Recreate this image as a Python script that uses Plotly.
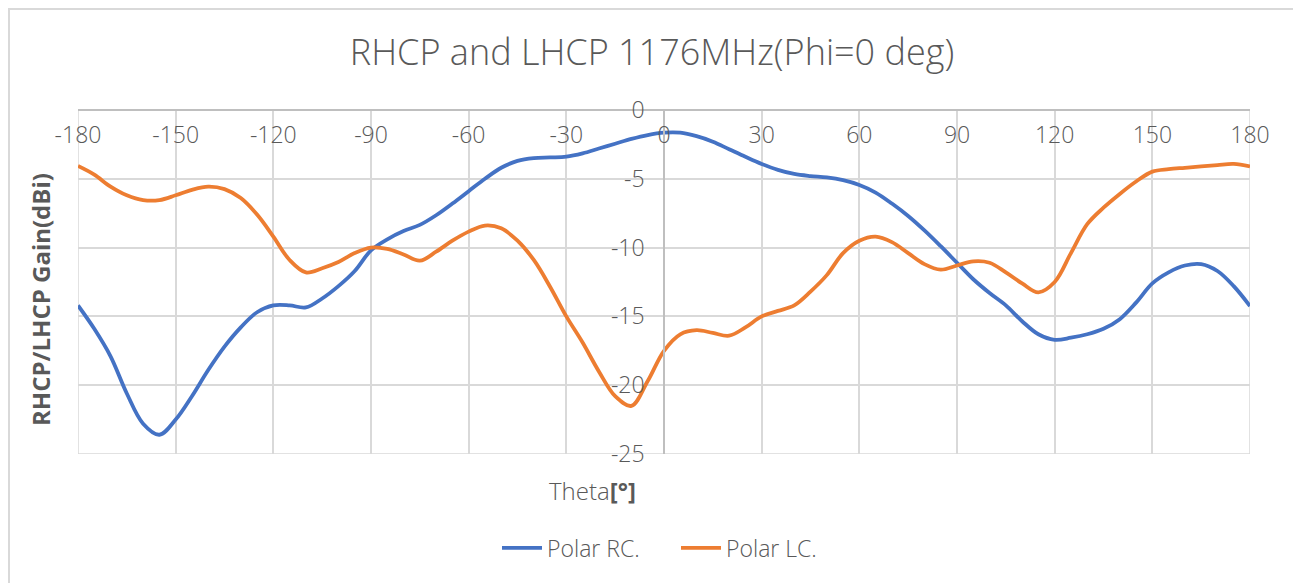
import plotly.graph_objects as go

# Theta grid [deg] and gains [dBi]
theta = list(range(-180, 181, 5))

rc_gain = [-14.2, -15.9, -17.9, -20.6, -22.8, -23.6, -22.5, -20.8, -18.9, -17.2,
           -15.8, -14.7, -14.2, -14.2, -14.35, -13.7, -12.8, -11.7, -10.2, -9.4,
           -8.8, -8.35, -7.65, -6.8, -5.9, -5.0, -4.2, -3.7, -3.5, -3.45,
           -3.39, -3.15, -2.8, -2.45, -2.1, -1.82, -1.65, -1.65, -1.9, -2.3,
           -2.85, -3.4, -3.92, -4.35, -4.65, -4.8, -4.9, -5.1, -5.45, -6.0,
           -6.8, -7.7, -8.75, -9.9, -11.1, -12.3, -13.3, -14.2, -15.35, -16.3,
           -16.7, -16.55, -16.3, -15.9, -15.2, -14.0, -12.6, -11.8, -11.3, -11.2,
           -11.7, -12.8, -14.25]

lc_gain = [-4.07, -4.7, -5.57, -6.2, -6.55, -6.55, -6.2, -5.8, -5.57, -5.75,
           -6.4, -7.6, -9.2, -10.9, -11.8, -11.5, -11.05, -10.4, -10.0, -10.1,
           -10.5, -10.95, -10.3, -9.5, -8.84, -8.4, -8.6, -9.5, -10.9, -12.84,
           -15.0, -16.9, -19.0, -20.8, -21.5, -19.7, -17.5, -16.3, -16.0, -16.2,
           -16.4, -15.8, -15.0, -14.6, -14.2, -13.2, -12.0, -10.4, -9.5, -9.2,
           -9.6, -10.4, -11.2, -11.6, -11.3, -11.0, -11.1, -11.8, -12.6, -13.25,
           -12.5, -10.4, -8.3, -7.1, -6.1, -5.2, -4.48, -4.3, -4.2, -4.1,
           -4.0, -3.92, -4.1]

x_ticks = list(range(-180, 181, 30))
y_ticks = list(range(-25, 1, 5))

TXT = "#595959"
GRID = "#D9D9D9"
FONT = "Open Sans"
OFF = 8  # page body margin

W, H = 1301 - OFF, 583 - OFF

fig = go.Figure()
fig.add_trace(go.Scatter(x=theta, y=rc_gain, mode="lines", name="Polar RC.",
                         line=dict(color="#4472C4", width=3.8, shape="spline", smoothing=1.0)))
fig.add_trace(go.Scatter(x=theta, y=lc_gain, mode="lines", name="Polar LC.",
                         line=dict(color="#ED7D31", width=3.8, shape="spline", smoothing=1.0)))

fig.update_layout(
    width=W, height=H,
    margin=dict(l=78 - OFF, r=W - (1250 - OFF), t=110 - OFF, b=H - (454 - OFF)),
    paper_bgcolor="white", plot_bgcolor="white",
    font=dict(family=FONT, color=TXT, weight=300),
    title=dict(text="RHCP and LHCP 1176MHz(Phi=0 deg)", x=(652 - OFF) / W, xanchor="center",
               y=1 - (52 - OFF) / H, yanchor="middle", yref="container",
               font=dict(size=36, color=TXT, family=FONT, weight=300)),
    showlegend=True,
    legend=dict(orientation="h", x=(497 - 78) / 1172, xanchor="left", y=(454 - 548) / 344,
                yanchor="middle", entrywidth=124, entrywidthmode="pixels",
                font=dict(size=23, color=TXT, family=FONT, weight=300), itemwidth=40),
    xaxis=dict(range=[-180, 180], tickvals=x_ticks, ticktext=[str(v) for v in x_ticks],
               anchor="free", position=1, side="bottom",
               ticks="outside", ticklen=5, tickcolor="rgba(0,0,0,0)",
               showgrid=True, gridcolor=GRID, gridwidth=1.5, zeroline=False,
               showline=True, linecolor="#BFBFBF", linewidth=1.5,
               tickfont=dict(size=23, color=TXT, family=FONT, weight=300)),
    yaxis=dict(range=[-25, 0], tickvals=y_ticks, ticktext=[str(v) for v in y_ticks],
               anchor="free", position=0.5, side="left",
               ticks="outside", ticklen=14, tickcolor="rgba(0,0,0,0)",
               showgrid=True, gridcolor=GRID, gridwidth=1.5, zeroline=False,
               showline=True, linecolor="#BFBFBF", linewidth=1.5,
               tickfont=dict(size=23, color=TXT, family=FONT, weight=300)),
)

# plot-area frame
fig.add_shape(type="rect", xref="x", yref="y", x0=-180, x1=180, y0=-25, y1=0,
              line=dict(color=GRID, width=1.5), layer="below")
# chart outer border
fig.add_shape(type="rect", xref="paper", yref="paper",
              x0=(9 - 78) / 1172, x1=(1298.5 - 78) / 1172, y0=(454 - 600) / 344, y1=(454 - 9) / 344,
              line=dict(color=GRID, width=2))

# axis titles
fig.add_annotation(text="Theta<b>[°]</b>", xref="paper", yref="paper",
                   x=(592 - 78) / 1172, y=(454 - 490) / 344, xanchor="center", yanchor="middle",
                   showarrow=False, font=dict(size=24, color=TXT, family=FONT, weight=300))
fig.add_annotation(text="<b>RHCP/LHCP Gain(dBi)</b>", xref="paper", yref="paper",
                   x=(40 - 78) / 1172, y=(454 - 300) / 344, xanchor="center", yanchor="middle",
                   textangle=-90, showarrow=False, font=dict(size=24, color=TXT, family=FONT))

fig.write_html("out.html")
